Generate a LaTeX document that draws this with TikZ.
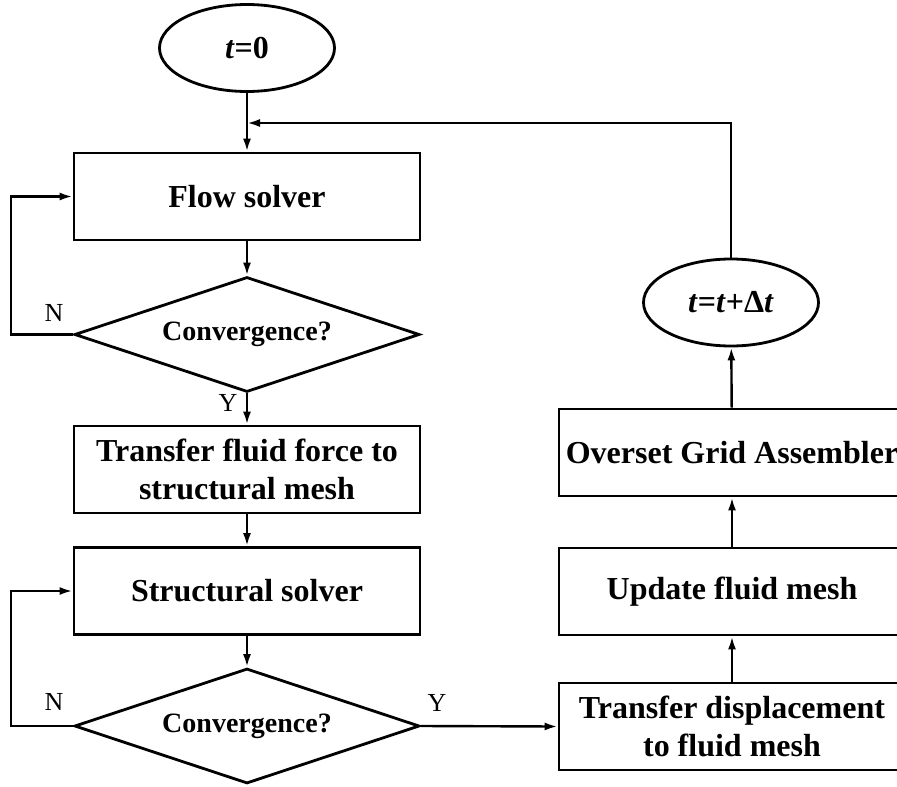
\documentclass[tikz,border=0pt]{standalone}
\usepackage{fontspec}
\setmainfont{Liberation Serif}
\usepackage{tikz}
\usetikzlibrary{shapes.geometric, arrows.meta, positioning}

\tikzset{
	box/.style={draw, line width=2.8pt, minimum width=346pt, minimum height=87pt, inner sep=0pt, align=center, font=\fontsize{32}{38}\selectfont\bfseries},
	test/.style={draw, diamond, aspect=3, line width=2.8pt, minimum width=345pt, minimum height=115pt, inner sep=0pt, font=\fontsize{28}{32}\selectfont\bfseries},
	term/.style={draw, ellipse, line width=2.8pt, minimum width=175pt, minimum height=87pt, inner sep=0pt, font=\fontsize{32}{38}\selectfont\bfseries},
	arr/.style={line width=2.4pt, -{Latex[length=13pt,width=8pt]}},
	lbl/.style={font=\fontsize{26}{30}\selectfont, inner sep=0pt}
}

\begin{document}
\begin{tikzpicture}[x=1pt, y=-1pt]
				\clip (0,0) rectangle (897,787);
				\fill[white] (0,0) rectangle (897,787);
				
				% left column
				\node[term] (start) at (247,48) {\textit{t}=0};
				\node[box] (flow) at (247,196.5) {Flow solver};
				\node[test] (conv1) at (247,334.5) {Convergence?};
				\node[box] (force) at (247,469.5) {Transfer fluid force to\\structural mesh};
				\node[box] (struct) at (247,591) {Structural solver};
				\node[test] (conv2) at (247,726) {Convergence?};
				
				% right column
				\node[box] (disp) at (732,726.5) {Transfer displacement\\to fluid mesh};
				\node[box] (update) at (732,591.5) {Update fluid mesh};
				\node[box] (overset) at (732,452.5) {Overset Grid Assembler};
				\node[term] (tstep) at (731,302.5) {\textit{t}=\textit{t}+Δ\textit{t}};
				
				\coordinate (merge) at (247,123);
				
				\draw[arr] (start) -- (flow);
				\draw[arr] (flow) -- (conv1);
				\draw[arr] (conv1.west) -- ++(-62,0) |- (flow.west);
				\draw[arr] (conv1) -- (force);
				\draw[arr] (force) -- (struct);
				\draw[arr] (struct) -- (conv2);
				\draw[arr] (conv2.west) -- ++(-62,0) |- (struct.west);
				\draw[arr] (conv2.east) -- (disp.west);
				\draw[arr] (disp) -- (update);
				\draw[arr] (update) -- (overset);
				\draw[arr] (overset) -- (tstep);
				\draw[arr] (tstep.north) |- (merge);
				
				\node[lbl] (n1) at (54,313) {N};
				\node[lbl] (y1) at (228,403) {Y};
				\node[lbl] (n2) at (54,702) {N};
				\node[lbl] (y2) at (437,703) {Y};
\end{tikzpicture}
\end{document}
